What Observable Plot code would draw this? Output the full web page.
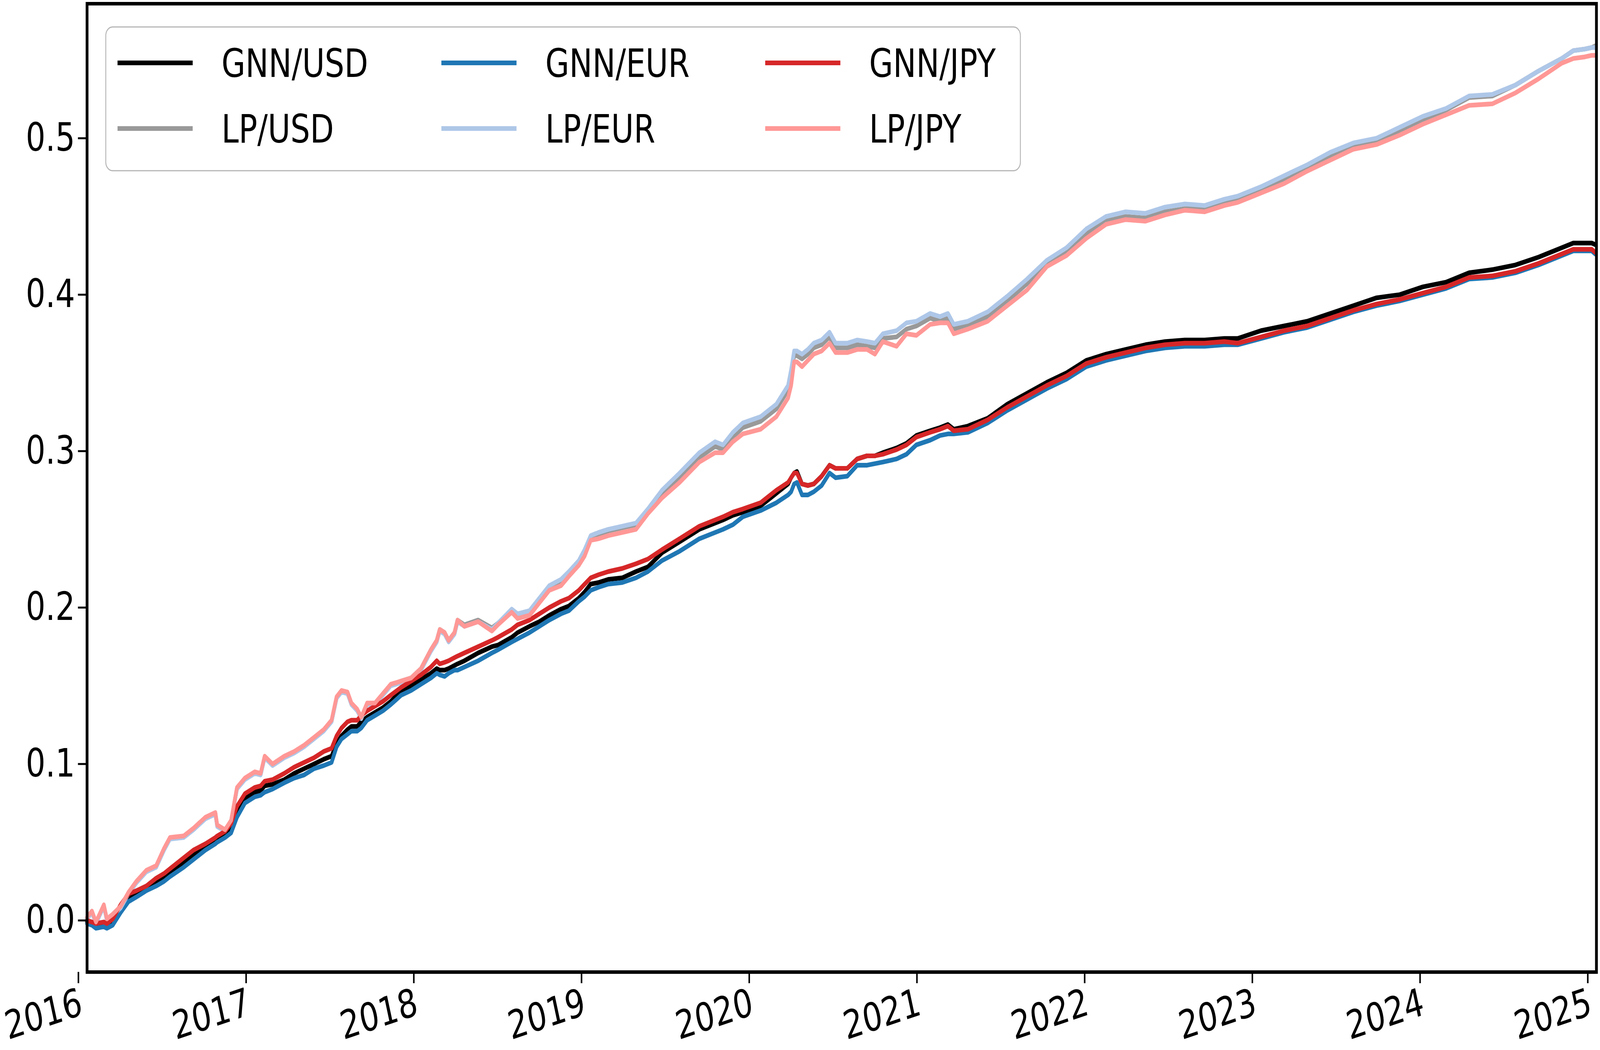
<!DOCTYPE html>
<html><head><meta charset="utf-8">
<script src="https://cdn.jsdelivr.net/npm/d3@7"></script>
<script src="https://cdn.jsdelivr.net/npm/@observablehq/plot@0.6"></script>
<style>
html,body{margin:0;padding:0;background:#fff;overflow:hidden;}
#wrap{position:absolute;left:0;top:0;width:5173px;height:2688px;font-family:"DejaVu Sans",sans-serif;transform-origin:0 0;}
#wrap > svg{display:block;max-width:none;}
#legend{position:absolute;left:340px;top:67px;}
</style></head><body><div id="wrap"></div>
<script>
// decimal years of the sampled points
const years = [
2016.000,2016.029,2016.053,2016.100,2016.118,2016.153,2016.200,2016.247,2016.294,2016.353,2016.412,2016.459,2016.494,2016.576,2016.635,2016.706,2016.765,2016.776,2016.823,2016.859,2016.894,2016.941,2017.000,2017.035,2017.059,2017.106,2017.176,2017.235,2017.294,2017.353,2017.411,2017.458,2017.488,2017.517,2017.553,2017.576,2017.611,2017.635,2017.670,2017.717,2017.764,2017.811,
2017.873,2017.932,2017.991,2018.050,2018.085,2018.103,2018.132,2018.156,2018.191,2018.209,2018.250,2018.332,2018.414,2018.450,2018.532,2018.567,2018.638,2018.697,2018.756,2018.826,2018.873,2018.932,2018.967,2019.003,2019.050,2019.108,2019.191,2019.273,2019.344,
2019.428,2019.533,2019.651,2019.745,2019.792,2019.851,2019.910,2020.016,2020.110,2020.180,2020.198,2020.216,2020.233,2020.263,2020.298,2020.333,2020.380,2020.427,2020.463,2020.533,2020.592,2020.651,2020.698,2020.745,2020.827,2020.886,2020.945,2021.027,2021.086,2021.133,2021.168,
2021.252,2021.370,2021.487,2021.605,2021.723,2021.840,2021.958,2022.076,2022.193,2022.311,2022.428,2022.546,2022.664,2022.781,
2022.861,2023.000,2023.137,2023.275,2023.413,2023.551,2023.689,2023.827,2023.965,2024.103,2024.241,2024.379,2024.517,2024.655,2024.793,2024.862,2024.930,2024.972,2024.993
];

const gnnUsd = [
-0.001,-0.002,-0.004,-0.003,-0.004,-0.002,0.007,0.014,0.017,0.020,0.024,0.027,0.030,0.037,0.042,0.047,0.051,0.052,0.055,0.059,0.070,0.078,0.082,0.083,0.086,0.087,0.090,0.094,0.097,0.100,0.103,0.105,0.113,0.118,0.122,0.124,0.124,0.127,0.130,0.133,0.136,0.140,
0.147,0.150,0.154,0.158,0.161,0.160,0.160,0.161,0.163,0.164,0.166,0.171,0.175,0.176,0.181,0.184,0.188,0.191,0.195,0.199,0.201,0.206,0.210,0.215,0.216,0.218,0.219,0.223,0.226,
0.235,0.242,0.250,0.254,0.256,0.259,0.261,0.265,0.273,0.279,0.283,0.286,0.287,0.279,0.278,0.279,0.284,0.291,0.289,0.289,0.295,0.297,0.297,0.299,0.302,0.305,0.310,0.313,0.315,0.317,0.314,
0.316,0.321,0.330,0.337,0.344,0.350,0.358,0.362,0.365,0.368,0.370,0.371,0.371,0.372,
0.372,0.377,0.380,0.383,0.388,0.393,0.398,0.400,0.405,0.408,0.414,0.416,0.419,0.424,0.430,0.433,0.433,0.433,0.432
];
const lpUsd = [
0.0015,0.0055,-0.0015,0.0095,0.0005,0.0035,0.0085,0.0175,0.0245,0.0315,0.0345,0.0455,0.0525,0.0535,0.0585,0.0655,0.0685,0.0605,0.0575,0.0635,0.0845,0.0905,0.0945,0.0935,0.1045,0.0995,0.1045,0.1075,0.1115,0.1165,0.1215,0.1275,0.1425,0.1465,0.1455,0.1385,0.1345,0.1295,0.1385,0.1385,0.1445,0.1505,
0.153,0.155,0.161,0.173,0.179,0.186,0.184,0.179,0.184,0.192,0.189,0.192,0.187,0.190,0.198,0.195,0.197,0.205,0.213,0.217,0.222,0.229,0.236,0.245,0.247,0.249,0.251,0.253,0.262,
0.272,0.283,0.296,0.303,0.301,0.309,0.315,0.319,0.327,0.339,0.349,0.361,0.361,0.359,0.362,0.366,0.368,0.373,0.366,0.366,0.368,0.367,0.366,0.372,0.373,0.378,0.380,0.385,0.383,0.385,0.378,
0.381,0.386,0.396,0.407,0.419,0.427,0.439,0.447,0.450,0.449,0.453,0.455,0.455,0.458,
0.461,0.467,0.474,0.481,0.489,0.495,0.498,0.505,0.512,0.518,0.526,0.527,0.534,0.543,0.551,0.556,0.557,0.558,0.559
];
const gnnEur = [
-0.002,-0.003,-0.005,-0.004,-0.005,-0.003,0.005,0.012,0.015,0.019,0.022,0.025,0.028,0.034,0.039,0.045,0.049,0.050,0.053,0.056,0.066,0.075,0.079,0.080,0.082,0.084,0.088,0.091,0.093,0.097,0.099,0.101,0.111,0.116,0.119,0.121,0.121,0.123,0.128,0.131,0.134,0.138,
0.144,0.147,0.151,0.155,0.158,0.157,0.156,0.158,0.160,0.160,0.162,0.166,0.171,0.173,0.178,0.180,0.184,0.188,0.192,0.196,0.198,0.204,0.207,0.211,0.213,0.215,0.216,0.219,0.223,
0.230,0.236,0.244,0.248,0.250,0.253,0.258,0.262,0.267,0.272,0.274,0.279,0.280,0.272,0.272,0.274,0.278,0.286,0.283,0.284,0.291,0.291,0.292,0.293,0.295,0.298,0.304,0.307,0.310,0.311,0.311,
0.312,0.318,0.326,0.333,0.340,0.346,0.354,0.358,0.361,0.364,0.366,0.367,0.367,0.368,
0.368,0.372,0.376,0.379,0.384,0.389,0.393,0.396,0.400,0.404,0.410,0.411,0.414,0.419,0.425,0.428,0.428,0.428,0.426
];
const lpEur = [
0.001,0.005,-0.002,0.009,0.000,0.003,0.008,0.017,0.024,0.031,0.034,0.045,0.052,0.053,0.058,0.065,0.068,0.060,0.057,0.063,0.084,0.090,0.094,0.093,0.104,0.099,0.104,0.107,0.111,0.116,0.121,0.127,0.142,0.146,0.145,0.138,0.134,0.129,0.138,0.138,0.144,0.150,
0.152,0.155,0.160,0.172,0.178,0.185,0.183,0.178,0.183,0.191,0.188,0.191,0.186,0.190,0.199,0.196,0.198,0.206,0.214,0.218,0.223,0.230,0.237,0.246,0.248,0.250,0.252,0.254,0.263,
0.275,0.286,0.299,0.306,0.304,0.312,0.318,0.322,0.330,0.342,0.352,0.364,0.364,0.362,0.365,0.369,0.371,0.376,0.369,0.369,0.371,0.370,0.369,0.375,0.377,0.382,0.383,0.388,0.386,0.388,0.381,
0.383,0.389,0.399,0.410,0.422,0.430,0.442,0.450,0.453,0.452,0.456,0.458,0.457,0.461,
0.463,0.469,0.476,0.483,0.491,0.497,0.500,0.507,0.514,0.519,0.527,0.528,0.534,0.543,0.551,0.556,0.557,0.558,0.558
];
const gnnJpy = [
0.000,-0.001,-0.002,-0.001,-0.002,0.001,0.010,0.017,0.019,0.022,0.027,0.030,0.033,0.040,0.045,0.049,0.053,0.054,0.057,0.062,0.073,0.081,0.085,0.086,0.089,0.090,0.094,0.098,0.101,0.104,0.108,0.110,0.118,0.123,0.127,0.128,0.128,0.131,0.134,0.137,0.140,0.144,
0.149,0.153,0.157,0.162,0.166,0.164,0.165,0.166,0.168,0.169,0.171,0.175,0.179,0.181,0.186,0.189,0.192,0.196,0.200,0.204,0.206,0.211,0.215,0.219,0.221,0.223,0.225,0.228,0.231,
0.237,0.244,0.252,0.256,0.258,0.261,0.263,0.267,0.275,0.280,0.283,0.286,0.286,0.279,0.278,0.279,0.284,0.291,0.289,0.289,0.295,0.297,0.297,0.298,0.301,0.304,0.309,0.312,0.314,0.316,0.313,
0.314,0.320,0.328,0.335,0.342,0.348,0.356,0.360,0.363,0.366,0.368,0.369,0.369,0.370,
0.369,0.373,0.377,0.380,0.385,0.390,0.394,0.397,0.401,0.405,0.411,0.412,0.415,0.420,0.426,0.429,0.429,0.429,0.427
];
const lpJpy = [
0.002,0.006,-0.001,0.010,0.001,0.004,0.009,0.018,0.025,0.032,0.035,0.046,0.053,0.054,0.059,0.066,0.069,0.061,0.058,0.064,0.085,0.091,0.095,0.094,0.105,0.100,0.105,0.108,0.112,0.117,0.122,0.128,0.143,0.147,0.146,0.139,0.135,0.130,0.139,0.139,0.145,0.151,
0.153,0.155,0.161,0.173,0.179,0.186,0.184,0.179,0.184,0.192,0.188,0.191,0.185,0.189,0.197,0.193,0.195,0.203,0.211,0.214,0.220,0.227,0.233,0.243,0.244,0.246,0.248,0.250,0.260,
0.270,0.280,0.293,0.299,0.299,0.306,0.311,0.314,0.322,0.334,0.342,0.357,0.357,0.354,0.358,0.362,0.364,0.369,0.363,0.363,0.365,0.365,0.362,0.370,0.367,0.375,0.374,0.381,0.382,0.382,0.375,
0.378,0.383,0.393,0.403,0.418,0.425,0.436,0.445,0.448,0.447,0.451,0.454,0.453,0.457,
0.459,0.465,0.471,0.479,0.486,0.493,0.496,0.502,0.509,0.515,0.521,0.522,0.529,0.538,0.548,0.551,0.552,0.553,0.553
];

const seriesNames = ["GNN/USD","LP/USD","GNN/EUR","LP/EUR","GNN/JPY","LP/JPY"];
const seriesValues = [gnnUsd, lpUsd, gnnEur, lpEur, gnnJpy, lpJpy];
const xTickYears = [2016,2017,2018,2019,2020,2021,2022,2023,2024,2025];
const yTickValues = [0.0,0.1,0.2,0.3,0.4,0.5];

// styles
const seriesColors = ["#000000","#999999","#1f77b4","#aec7e8","#d62728","#ff9896"];
const FONT = "DejaVu Sans";
const W = 5173, H = 2688;

const rows = seriesNames.flatMap((name, i) => years.map((t, j) => ({t, v: seriesValues[i][j], name})));

const chart = Plot.plot({
  width: W, height: H,
  marginLeft: 281, marginRight: 12, marginTop: 9, marginBottom: 200,
  style: {fontFamily: FONT, fontSize: "100px", color: "#000", background: "#fff", overflow: "visible", maxWidth: "none"},
  x: {domain: [2016, 2025], label: null},
  y: {domain: [-0.033, 0.586], label: null},
  color: {domain: seriesNames, range: seriesColors},
  marks: [
    ...seriesNames.map(name => Plot.line(rows.filter(r => r.name === name), {
      x: "t", y: "v", stroke: "name", strokeWidth: 12, strokeLinejoin: "round", strokeLinecap: "round"
    })),
    Plot.frame({stroke: "#000", strokeWidth: 9}),
    Plot.axisX({ticks: xTickYears, tickFormat: d => String(d), tickSize: 29, tickPadding: 10, tickRotate: -15,
      textAnchor: "end", lineAnchor: "top", dx: -28,
      strokeWidth: 5, fontSize: 100, label: null}),
    Plot.axisY({ticks: yTickValues, tickFormat: d3.format(".1f"), tickSize: 29, tickPadding: 10,
      strokeWidth: 5, fontSize: 100, label: null})
  ]
});
const wrap = document.getElementById("wrap");
wrap.appendChild(chart);

// legend (inside the plot, upper left)
const LW = 2961, LH = 372;
const leg = d3.create("svg").attr("id", "legend").attr("width", LW).attr("height", LH)
  .style("font-family", FONT);
leg.append("rect").attr("x", 2).attr("y", 2).attr("width", LW - 4).attr("height", LH - 4)
  .attr("rx", 22).attr("fill", "#fff").attr("fill-opacity", 0.8).attr("stroke", "#b5b5b5").attr("stroke-width", 3);
seriesNames.forEach((name, i) => {
  const col = Math.floor(i / 2), row = i % 2;
  const x0 = 40 + col * 1047, yc = 94 + row * 168;
  leg.append("line").attr("x1", x0).attr("x2", x0 + 243).attr("y1", yc).attr("y2", yc)
    .attr("stroke", seriesColors[i]).attr("stroke-width", 12);
  leg.append("text").attr("x", x0 + 336).attr("y", yc).attr("dy", "0.36em")
    .attr("font-size", 100).attr("fill", "#000").text(name);
});
wrap.appendChild(leg.node());

// fit the 5173x2688 layout into the actual viewport
const sx = window.innerWidth / W, sy = window.innerHeight / H;
wrap.style.transform = `scale(${sx}, ${sy})`;
</script></body></html>
